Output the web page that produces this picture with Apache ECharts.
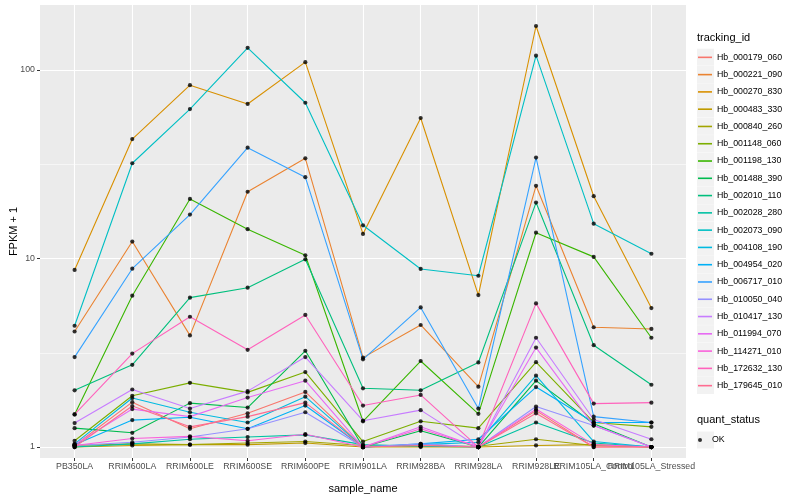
<!DOCTYPE html>
<html>
<head>
<meta charset="utf-8">
<script src="https://cdn.jsdelivr.net/npm/echarts@6.0.0/dist/echarts.min.js"></script>
<style>html,body{margin:0;padding:0;background:#fff}#c{width:800px;height:500px}</style>
</head>
<body>
<div id="c"></div>
<script>
const categories = ['PB350LA','RRIM600LA','RRIM600LE','RRIM600SE','RRIM600PE','RRIM901LA','RRIM928BA','RRIM928LA','RRIM928LE','RRIM105LA_Control','RRIM105LA_Stressed'];
const trackingIds = ['Hb_000179_060','Hb_000221_090','Hb_000270_830','Hb_000483_330','Hb_000840_260','Hb_001148_060','Hb_001198_130','Hb_001488_390','Hb_002010_110','Hb_002028_280','Hb_002073_090','Hb_004108_190','Hb_004954_020','Hb_006717_010','Hb_010050_040','Hb_010417_130','Hb_011994_070','Hb_114271_010','Hb_172632_130','Hb_179645_010'];
const colors = ['#F8766D','#EA8331','#D89000','#C09B00','#A3A500','#7CAE00','#39B600','#00BB4E','#00BF7D','#00C1A3','#00BFC4','#00BAE0','#00B0F6','#35A2FF','#9590FF','#C77CFF','#E76BF3','#FA62DB','#FF62BC','#FF6C91'];
const yTicks = [1, 10, 100];

const hb000179_060 = [1.02, 1.73, 1.25, 1.51, 1.96, 1.0, 1.03, 1.0, 1.56, 1.0, 1.0];
const hb000221_090 = [4.1, 12.3, 3.91, 22.6, 34, 2.98, 4.44, 2.09, 24.3, 4.32, 4.23];
const hb000270_830 = [8.7, 43, 83, 66, 110, 13.5, 55.6, 6.4, 171, 21.4, 5.46];
const hb000483_330 = [1.0, 1.02, 1.03, 1.03, 1.05, 1.0, 1.0, 1.0, 1.02, 1.03, 1.0];
const hb000840_260 = [1.02, 1.04, 1.03, 1.05, 1.07, 1.02, 1.01, 1.01, 1.1, 1.02, 1.0];
const hb001148_060 = [1.08, 1.87, 2.19, 1.95, 2.5, 1.07, 1.37, 1.26, 2.82, 1.35, 1.28];
const hb001198_130 = [1.49, 6.35, 20.7, 14.3, 10.4, 1.37, 2.86, 1.5, 13.7, 10.2, 3.8];
const hb001488_390 = [1.26, 1.19, 1.71, 1.62, 3.24, 1.0, 1.22, 1.0, 2.25, 1.33, 1.0];
const hb002010_110 = [2.0, 2.73, 6.2, 7.0, 9.9, 2.05, 2.0, 2.81, 19.8, 3.47, 2.14];
const hb002028_280 = [1.0, 1.04, 1.1, 1.13, 1.16, 1.03, 1.01, 1.0, 1.35, 1.05, 1.0];
const hb002073_090 = [4.4, 32, 62, 131, 67, 15, 8.8, 8.1, 119, 15.3, 10.6];
const hb004108_190 = [1.04, 1.82, 1.53, 1.35, 1.85, 1.0, 1.03, 1.06, 2.39, 1.07, 1.0];
const hb004954_020 = [1.03, 1.39, 1.44, 1.25, 1.66, 1.0, 1.04, 1.1, 2.08, 1.35, 1.35];
const hb006717_010 = [3.0, 8.83, 17.1, 38.7, 27, 2.92, 5.5, 1.6, 34.3, 1.45, 1.35];
const hb010050_040 = [1.02, 1.06, 1.13, 1.25, 1.53, 1.0, 1.04, 1.0, 1.64, 1.3, 1.0];
const hb010417_130 = [1.34, 2.02, 1.6, 1.98, 3.0, 1.38, 1.57, 1.0, 3.8, 1.4, 1.1];
const hb011994_070 = [1.03, 1.59, 1.45, 1.83, 2.25, 1.0, 1.28, 1.0, 3.37, 1.3, 1.0];
const hb114271_010 = [1.02, 1.11, 1.14, 1.08, 1.17, 1.0, 1.25, 1.0, 1.59, 1.03, 1.0];
const hb172632_130 = [1.49, 3.13, 4.91, 3.28, 5.02, 1.66, 1.89, 1.0, 5.78, 1.7, 1.72];
const hb179645_010 = [1.0, 1.65, 1.28, 1.45, 1.72, 1.0, 1.02, 1.0, 1.51, 1.0, 1.0];

const seriesValues = [hb000179_060, hb000221_090, hb000270_830, hb000483_330, hb000840_260, hb001148_060, hb001198_130, hb001488_390, hb002010_110, hb002028_280, hb002073_090, hb004108_190, hb004954_020, hb006717_010, hb010050_040, hb010417_130, hb011994_070, hb114271_010, hb172632_130, hb179645_010];

const FONT = 'Liberation Sans, Arial, sans-serif';
const idx = categories.map((c, i) => i);
const evenIdx = idx.filter(i => i % 2 === 0);
const oddIdx = idx.filter(i => i % 2 === 1);

const lineSeries = trackingIds.map((id, k) => ({
  name: id,
  type: 'line',
  data: seriesValues[k].map((v, i) => [i, v]),
  symbol: 'none',
  showSymbol: false,
  color: colors[k],
  lineStyle: { width: 1.1, color: colors[k] },
  itemStyle: { color: colors[k] },
  emphasis: { disabled: true },
  z: 2
}));

const pts = [];
seriesValues.forEach(arr => arr.forEach((v, i) => pts.push([i, v])));

const keyTop = 48.7, keyStep = 17.28;
const okTop = 431.5;
const graphics = [];
trackingIds.forEach((id, k) => {
  graphics.push({ type: 'rect', left: 697, top: keyTop + k * keyStep, shape: { width: 17, height: 17 }, style: { fill: '#F2F2F2' }, z: 0 });
});
graphics.push({ type: 'rect', left: 697, top: okTop, shape: { width: 17, height: 17 }, style: { fill: '#F2F2F2' }, z: 0 });
graphics.push({ type: 'text', left: 697, top: 32, style: { text: 'tracking_id', font: '11px ' + FONT, fill: '#000' } });
graphics.push({ type: 'text', left: 697, top: 414.5, style: { text: 'quant_status', font: '11px ' + FONT, fill: '#000' } });

const xLabelStyle = { formatter: v => categories[Math.round(v)], fontSize: 8.8, color: '#4D4D4D', margin: 4, hideOverlap: false, showMinLabel: true, showMaxLabel: true, fontFamily: FONT };

const chart = echarts.init(document.getElementById('c'));
chart.setOption({
  animation: false,
  backgroundColor: '#fff',
  textStyle: { fontFamily: FONT },
  grid: { left: 40, right: 114, top: 5, bottom: 42, show: true, backgroundColor: '#EBEBEB', borderWidth: 0, containLabel: false, outerBoundsMode: 'none' },
  xAxis: [{
    type: 'value', min: -0.6, max: 10.6, position: 'bottom',
    name: 'sample_name', nameLocation: 'middle', nameGap: 25, nameMoveOverlap: false,
    nameTextStyle: { fontSize: 11, color: '#000', fontFamily: FONT },
    axisLine: { show: false, onZero: false },
    axisTick: { show: true, length: 3, lineStyle: { color: '#333333', width: 1 }, customValues: idx },
    axisLabel: Object.assign({ customValues: evenIdx }, xLabelStyle),
    splitLine: { show: true, lineStyle: { color: '#FFFFFF', width: 1.1 } },
    minorSplitLine: { show: false }
  }, {
    type: 'value', min: -0.6, max: 10.6, position: 'bottom',
    axisLine: { show: false, onZero: false },
    axisTick: { show: false, customValues: oddIdx },
    axisLabel: Object.assign({ customValues: oddIdx }, xLabelStyle),
    splitLine: { show: false }
  }],
  yAxis: [{
    type: 'log', logBase: 10, min: 0.875, max: 221,
    position: 'left',
    name: 'FPKM + 1', nameLocation: 'middle', nameGap: 21, nameMoveOverlap: false,
    nameTextStyle: { fontSize: 11, color: '#000', fontFamily: FONT },
    axisLine: { show: false, onZero: false },
    axisTick: { show: true, length: 3, lineStyle: { color: '#333333', width: 1 }, customValues: yTicks },
    axisLabel: { customValues: yTicks, fontSize: 8.8, color: '#4D4D4D', margin: 5, showMinLabel: true, showMaxLabel: true, fontFamily: FONT },
    splitLine: { show: true, lineStyle: { color: '#FFFFFF', width: 1.1 } }
  }, {
    type: 'log', logBase: 10, min: 0.875, max: 221,
    position: 'left',
    axisLine: { show: false, onZero: false },
    axisTick: { show: false, customValues: yTicks.slice(0, 2).map(v => v * Math.sqrt(10)) },
    axisLabel: { show: false },
    splitLine: { show: true, lineStyle: { color: '#FFFFFF', width: 0.55 } }
  }],
  legend: [{
    orient: 'vertical', left: 698, top: keyTop,
    data: trackingIds,
    icon: 'rect', itemWidth: 14, itemHeight: 1.6, itemGap: 0,
    selectedMode: false,
    textStyle: { fontSize: 8.8, color: '#000', lineHeight: keyStep, fontFamily: FONT },
    padding: 0
  }, {
    orient: 'vertical', left: 698, top: okTop,
    data: ['OK'],
    icon: 'circle', itemWidth: 14, itemHeight: 4,
    selectedMode: false,
    textStyle: { fontSize: 8.8, color: '#000', lineHeight: 17, fontFamily: FONT },
    padding: 0
  }],
  graphic: graphics,
  series: lineSeries.concat([{
    name: 'OK', type: 'scatter', data: pts,
    symbol: 'circle', symbolSize: 4.2,
    itemStyle: { color: '#000' },
    emphasis: { disabled: true },
    z: 5
  }])
});
</script>
</body>
</html>
